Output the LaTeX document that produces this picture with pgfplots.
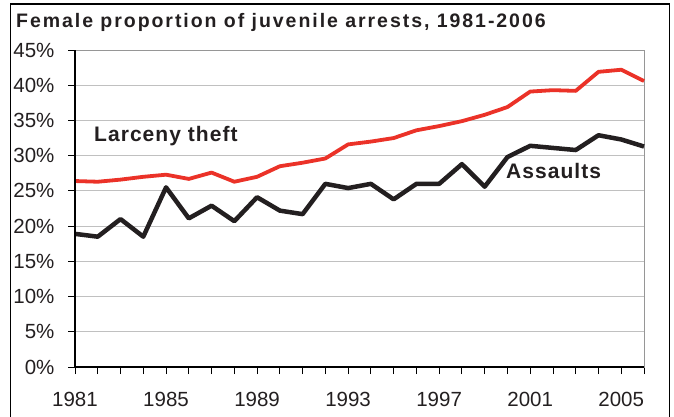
\documentclass[border=0pt]{standalone}
\usepackage{fontspec}
\setmainfont{Liberation Sans}
\newfontfamily\titlefont[LetterSpace=10]{Liberation Sans Bold}
\newfontfamily\labfont[LetterSpace=5]{Liberation Sans Bold}
\usepackage{pgfplots}
\pgfplotsset{compat=1.18}
\definecolor{redline}{RGB}{235,50,40}
\definecolor{blackline}{RGB}{35,31,32}
\definecolor{gridgray}{RGB}{192,192,192}
\definecolor{framegray}{RGB}{150,150,150}
\pgfplotstableread{
year larceny assaults
1981 26.4 18.9
1982 26.3 18.5
1983 26.6 21.0
1984 27.0 18.5
1985 27.3 25.5
1986 26.7 21.1
1987 27.6 22.9
1988 26.3 20.7
1989 27.0 24.1
1990 28.5 22.2
1991 29.0 21.7
1992 29.6 26.0
1993 31.6 25.4
1994 32.0 26.0
1995 32.5 23.8
1996 33.6 26.0
1997 34.2 26.0
1998 34.9 28.8
1999 35.8 25.6
2000 36.9 29.8
2001 39.1 31.4
2002 39.3 31.1
2003 39.2 30.8
2004 41.9 32.9
2005 42.2 32.3
2006 40.6 31.3
}\datatable
\begin{document}
\begin{tikzpicture}
\useasboundingbox (0pt,0pt) rectangle (674pt,416pt);
\draw[black, line width=1.5pt] (10.5pt,-10pt) -- (10.5pt,412pt) -- (669.5pt,412pt) -- (669.5pt,-10pt);
\node[anchor=base west, inner sep=0pt, font=\titlefont\fontsize{19.5}{21}\selectfont, text=blackline] at (16pt,388pt) {Female proportion of juvenile arrests, 1981-2006};
\begin{axis}[
  at={(75pt,49pt)}, anchor=south west,
  scale only axis, width=569pt, height=317pt,
  xmin=1981, xmax=2006, ymin=0, ymax=45,
  xtick={1981,...,2006},
  xticklabels={1981,,,,1985,,,,1989,,,,1993,,,,1997,,,,2001,,,,2005,},
  ytick={0,5,...,45},
  yticklabel={\pgfmathprintnumber{\tick}\%},
  /pgf/number format/assume math mode=true,
  ticklabel style={font=\fontsize{20.5}{22}\selectfont, text=blackline},
  xticklabel style={yshift=-15pt},
  yticklabel style={xshift=-10pt},
  xtick pos=bottom, ytick pos=left,
  tick align=outside,
  major tick length=7pt,
  tick style={black, line width=0.8pt},
  ymajorgrids,
  major grid style={gridgray, line width=1pt},
  axis line style={framegray, line width=1pt},
  clip=false,
]
\addplot[redline, line width=3.8pt, line join=round] table[x=year, y=larceny] {\datatable};
\addplot[blackline, line width=4.5pt, line join=round] table[x=year, y=assaults] {\datatable};
\draw[black, line width=1.2pt] (rel axis cs:0,1) -- (rel axis cs:0,0) -- (rel axis cs:1,0);
\end{axis}
\node[anchor=base west, inner sep=0pt, font=\labfont\fontsize{21}{23}\selectfont, text=blackline] at (94pt,275pt) {Larceny theft};
\node[anchor=base west, inner sep=0pt, font=\labfont\fontsize{21}{23}\selectfont, text=blackline] at (506pt,238pt) {Assaults};
\end{tikzpicture}
\end{document}
